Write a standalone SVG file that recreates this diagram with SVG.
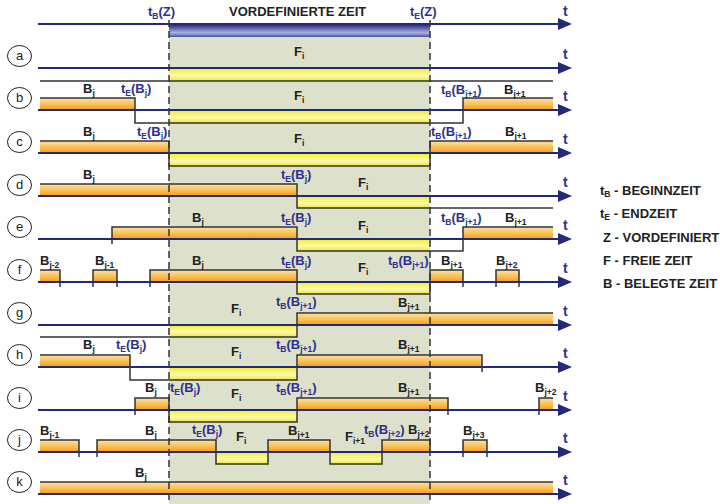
<svg xmlns="http://www.w3.org/2000/svg" width="720" height="504" viewBox="0 0 720 504">
<defs>
<linearGradient id="og" x1="0" y1="0" x2="0" y2="1"><stop offset="0" stop-color="#fde2a4"/><stop offset="0.55" stop-color="#f9bf52"/><stop offset="1" stop-color="#f49c1a"/></linearGradient>
<linearGradient id="yg" x1="0" y1="0" x2="0" y2="1"><stop offset="0" stop-color="#f6ee2a"/><stop offset="0.55" stop-color="#fcf9b8"/><stop offset="1" stop-color="#f0e62a"/></linearGradient>
<linearGradient id="bg" x1="0" y1="0" x2="0" y2="1"><stop offset="0" stop-color="#2a2e82"/><stop offset="0.65" stop-color="#aab0e0"/><stop offset="1" stop-color="#4b509e"/></linearGradient>
<marker id="ar" markerUnits="userSpaceOnUse" markerWidth="14" markerHeight="12" refX="2" refY="6" orient="auto"><path d="M0,0 L14,6 L0,12 z" fill="#23287a"/></marker>
</defs>
<style>
.ax{stroke:#23287a;stroke-width:2;fill:none;marker-end:url(#ar)}
.sig{stroke:#333;stroke-width:1.5;fill:none}
.ob{fill:url(#og)}
.yb{fill:url(#yg)}
.dash{stroke:#333;stroke-width:1.5;stroke-dasharray:7,4;fill:none}
text{font-family:"Liberation Sans",Arial,sans-serif;font-weight:bold;font-size:13px;fill:#222}
.tl{fill:#2e3190}
.s{font-size:8.5px}
.tt{fill:#2e3190;font-size:14px}
.cl{fill:#fff;stroke:#222;stroke-width:1}
.ct{font-weight:normal;font-size:13px;text-anchor:middle}
.lg{font-size:13px}
</style>
<rect x="169" y="37" width="261" height="467" fill="#dde0ca"/>
<rect x="169" y="25" width="261" height="12" fill="url(#bg)"/>

<g id="header">
<line class="ax" x1="38" y1="24" x2="560" y2="24"/>
<text x="148" y="16" class="tl">t<tspan class="s" dy="3">B</tspan><tspan dy="-3">(Z)</tspan></text>
<text x="229" y="16">VORDEFINIERTE ZEIT</text>
<text x="410" y="16" class="tl">t<tspan class="s" dy="3">E</tspan><tspan dy="-3">(Z)</tspan></text>
<text x="563" y="16" class="tt">t</text>
</g>

<g id="row-a">
<rect class="yb" x="169" y="69" width="261" height="12"/>
<path class="sig" d="M40,81 H553"/>
<line class="ax" x1="38" y1="68" x2="560" y2="68"/>
<ellipse class="cl" cx="19.5" cy="56" rx="12" ry="10.5"/><text class="ct" x="19.5" y="60">a</text>
<text x="294" y="56">F<tspan class="s" dy="3">i</tspan></text>
<text x="563" y="59" class="tt">t</text>
</g>

<g id="row-b">
<rect class="ob" x="40" y="98" width="95" height="12"/>
<rect class="ob" x="463" y="98" width="90" height="12"/>
<rect class="yb" x="169" y="111" width="261" height="12"/>
<path class="sig" d="M40,98 H135 V123 H463 V98 H553"/>
<line class="ax" x1="38" y1="110" x2="560" y2="110"/>
<ellipse class="cl" cx="19.5" cy="98" rx="12" ry="10.5"/><text class="ct" x="19.5" y="102">b</text>
<text x="83" y="93">B<tspan class="s" dy="3">j</tspan></text>
<text x="121" y="93" class="tl">t<tspan class="s" dy="3">E</tspan><tspan dy="-3">(B</tspan><tspan class="s" dy="3">j</tspan><tspan dy="-3">)</tspan></text>
<text x="294" y="100">F<tspan class="s" dy="3">i</tspan></text>
<text x="441" y="94" class="tl">t<tspan class="s" dy="3">B</tspan><tspan dy="-3">(B</tspan><tspan class="s" dy="3">j+1</tspan><tspan dy="-3">)</tspan></text>
<text x="504" y="94">B<tspan class="s" dy="3">j+1</tspan></text>
<text x="563" y="101" class="tt">t</text>
</g>

<g id="row-c">
<rect class="ob" x="40" y="141" width="129" height="12"/>
<rect class="ob" x="430" y="141" width="123" height="12"/>
<rect class="yb" x="169" y="154" width="261" height="12"/>
<path class="sig" d="M40,141 H169 V166 H430 V141 H553"/>
<line class="ax" x1="38" y1="153" x2="560" y2="153"/>
<ellipse class="cl" cx="19.5" cy="142" rx="12" ry="10.5"/><text class="ct" x="19.5" y="146">c</text>
<text x="83" y="136">B<tspan class="s" dy="3">j</tspan></text>
<text x="137" y="136" class="tl">t<tspan class="s" dy="3">E</tspan><tspan dy="-3">(B</tspan><tspan class="s" dy="3">j</tspan><tspan dy="-3">)</tspan></text>
<text x="294" y="143">F<tspan class="s" dy="3">i</tspan></text>
<text x="431" y="136" class="tl">t<tspan class="s" dy="3">B</tspan><tspan dy="-3">(B</tspan><tspan class="s" dy="3">j+1</tspan><tspan dy="-3">)</tspan></text>
<text x="505" y="136">B<tspan class="s" dy="3">j+1</tspan></text>
<text x="563" y="144" class="tt">t</text>
</g>

<g id="row-d">
<rect class="ob" x="40" y="184" width="257" height="12"/>
<rect class="yb" x="297" y="197" width="133" height="11"/>
<path class="sig" d="M40,184 H297 V208 H553"/>
<line class="ax" x1="38" y1="196" x2="560" y2="196"/>
<ellipse class="cl" cx="19.5" cy="185" rx="12" ry="10.5"/><text class="ct" x="19.5" y="189">d</text>
<text x="83" y="179">B<tspan class="s" dy="3">j</tspan></text>
<text x="281" y="179" class="tl">t<tspan class="s" dy="3">E</tspan><tspan dy="-3">(B</tspan><tspan class="s" dy="3">j</tspan><tspan dy="-3">)</tspan></text>
<text x="358" y="187">F<tspan class="s" dy="3">i</tspan></text>
<text x="563" y="187" class="tt">t</text>
</g>

<g id="row-e">
<rect class="ob" x="112" y="227" width="185" height="12"/>
<rect class="ob" x="463" y="227" width="90" height="12"/>
<rect class="yb" x="297" y="240" width="133" height="11"/>
<path class="sig" d="M112,244 V227 H297 V251 H463 V227 H553"/>
<line class="ax" x1="38" y1="239" x2="560" y2="239"/>
<ellipse class="cl" cx="19.5" cy="227" rx="12" ry="10.5"/><text class="ct" x="19.5" y="231">e</text>
<text x="192" y="222">B<tspan class="s" dy="3">j</tspan></text>
<text x="281" y="222" class="tl">t<tspan class="s" dy="3">E</tspan><tspan dy="-3">(B</tspan><tspan class="s" dy="3">j</tspan><tspan dy="-3">)</tspan></text>
<text x="358" y="230">F<tspan class="s" dy="3">i</tspan></text>
<text x="441" y="222" class="tl">t<tspan class="s" dy="3">B</tspan><tspan dy="-3">(B</tspan><tspan class="s" dy="3">j+1</tspan><tspan dy="-3">)</tspan></text>
<text x="505" y="222">B<tspan class="s" dy="3">j+1</tspan></text>
<text x="563" y="230" class="tt">t</text>
</g>

<g id="row-f">
<rect class="ob" x="40" y="270" width="20" height="12"/>
<rect class="ob" x="93" y="270" width="24" height="12"/>
<rect class="ob" x="150" y="270" width="147" height="12"/>
<rect class="ob" x="430" y="270" width="33" height="12"/>
<rect class="ob" x="496" y="270" width="23" height="12"/>
<rect class="yb" x="297" y="283" width="133" height="11"/>
<path class="sig" d="M40,270 H60 V287 M93,287 V270 H117 V287 M150,287 V270 H297 V294 H430 V270 H463 V287 M496,287 V270 H519 V287"/>
<line class="ax" x1="38" y1="282" x2="560" y2="282"/>
<ellipse class="cl" cx="19.5" cy="270" rx="12" ry="10.5"/><text class="ct" x="19.5" y="274">f</text>
<text x="40" y="265">B<tspan class="s" dy="3">j-2</tspan></text>
<text x="95" y="265">B<tspan class="s" dy="3">j-1</tspan></text>
<text x="192" y="265">B<tspan class="s" dy="3">j</tspan></text>
<text x="281" y="265" class="tl">t<tspan class="s" dy="3">E</tspan><tspan dy="-3">(B</tspan><tspan class="s" dy="3">j</tspan><tspan dy="-3">)</tspan></text>
<text x="358" y="272">F<tspan class="s" dy="3">i</tspan></text>
<text x="388" y="265" class="tl">t<tspan class="s" dy="3">B</tspan><tspan dy="-3">(B</tspan><tspan class="s" dy="3">j+1</tspan><tspan dy="-3">)</tspan></text>
<text x="441" y="265">B<tspan class="s" dy="3">j+1</tspan></text>
<text x="496" y="265">B<tspan class="s" dy="3">j+2</tspan></text>
<text x="563" y="273" class="tt">t</text>
</g>

<g id="row-g">
<rect class="ob" x="297" y="313" width="256" height="12"/>
<rect class="yb" x="169" y="326" width="128" height="11"/>
<path class="sig" d="M40,337 H297 V313 H553"/>
<line class="ax" x1="38" y1="325" x2="560" y2="325"/>
<ellipse class="cl" cx="19.5" cy="313" rx="12" ry="10.5"/><text class="ct" x="19.5" y="317">g</text>
<text x="231" y="313">F<tspan class="s" dy="3">i</tspan></text>
<text x="276" y="306" class="tl">t<tspan class="s" dy="3">B</tspan><tspan dy="-3">(B</tspan><tspan class="s" dy="3">j+1</tspan><tspan dy="-3">)</tspan></text>
<text x="398" y="307">B<tspan class="s" dy="3">j+1</tspan></text>
<text x="563" y="316" class="tt">t</text>
</g>

<g id="row-h">
<rect class="ob" x="40" y="355" width="90" height="12"/>
<rect class="ob" x="297" y="355" width="185" height="12"/>
<rect class="yb" x="169" y="368" width="128" height="12"/>
<path class="sig" d="M40,355 H130 V380 H297 V355 H482 V372"/>
<line class="ax" x1="38" y1="367" x2="560" y2="367"/>
<ellipse class="cl" cx="19.5" cy="355" rx="12" ry="10.5"/><text class="ct" x="19.5" y="359">h</text>
<text x="83" y="349">B<tspan class="s" dy="3">j</tspan></text>
<text x="116" y="349" class="tl">t<tspan class="s" dy="3">E</tspan><tspan dy="-3">(B</tspan><tspan class="s" dy="3">j</tspan><tspan dy="-3">)</tspan></text>
<text x="231" y="356">F<tspan class="s" dy="3">i</tspan></text>
<text x="276" y="349" class="tl">t<tspan class="s" dy="3">B</tspan><tspan dy="-3">(B</tspan><tspan class="s" dy="3">j+1</tspan><tspan dy="-3">)</tspan></text>
<text x="398" y="349">B<tspan class="s" dy="3">j+1</tspan></text>
<text x="563" y="358" class="tt">t</text>
</g>

<g id="row-i">
<rect class="ob" x="135" y="398" width="34" height="12"/>
<rect class="ob" x="297" y="398" width="151" height="12"/>
<rect class="ob" x="539" y="398" width="14" height="12"/>
<rect class="yb" x="169" y="411" width="128" height="11"/>
<path class="sig" d="M135,415 V398 H169 V422 H297 V398 H448 V415 M539,415 V398 H553"/>
<line class="ax" x1="38" y1="410" x2="560" y2="410"/>
<ellipse class="cl" cx="19.5" cy="398" rx="12" ry="10.5"/><text class="ct" x="19.5" y="402">i</text>
<text x="145" y="392">B<tspan class="s" dy="3">j</tspan></text>
<text x="170" y="392" class="tl">t<tspan class="s" dy="3">E</tspan><tspan dy="-3">(B</tspan><tspan class="s" dy="3">j</tspan><tspan dy="-3">)</tspan></text>
<text x="231" y="398">F<tspan class="s" dy="3">i</tspan></text>
<text x="276" y="392" class="tl">t<tspan class="s" dy="3">B</tspan><tspan dy="-3">(B</tspan><tspan class="s" dy="3">j+1</tspan><tspan dy="-3">)</tspan></text>
<text x="398" y="392">B<tspan class="s" dy="3">j+1</tspan></text>
<text x="535" y="392">B<tspan class="s" dy="3">j+2</tspan></text>
<text x="563" y="401" class="tt">t</text>
</g>

<g id="row-j">
<rect class="ob" x="40" y="440" width="39" height="12"/>
<rect class="ob" x="97" y="440" width="119" height="12"/>
<rect class="ob" x="268" y="440" width="62" height="12"/>
<rect class="ob" x="382" y="440" width="48" height="12"/>
<rect class="ob" x="463" y="440" width="24" height="12"/>
<rect class="yb" x="216" y="453" width="52" height="11"/>
<rect class="yb" x="330" y="453" width="52" height="11"/>
<path class="sig" d="M40,440 H79 V457 M97,457 V440 H216 V464 H268 V440 H330 V464 H382 V440 H430 V452 M463,457 V440 H487 V457"/>
<line class="ax" x1="38" y1="452" x2="560" y2="452"/>
<ellipse class="cl" cx="19.5" cy="440" rx="12" ry="10.5"/><text class="ct" x="19.5" y="444">j</text>
<text x="40" y="435">B<tspan class="s" dy="3">j-1</tspan></text>
<text x="145" y="435">B<tspan class="s" dy="3">j</tspan></text>
<text x="192" y="434" class="tl">t<tspan class="s" dy="3">E</tspan><tspan dy="-3">(B</tspan><tspan class="s" dy="3">j</tspan><tspan dy="-3">)</tspan></text>
<text x="236" y="441">F<tspan class="s" dy="3">i</tspan></text>
<text x="288" y="435">B<tspan class="s" dy="3">j+1</tspan></text>
<text x="345" y="441">F<tspan class="s" dy="3">i+1</tspan></text>
<text x="364" y="434" class="tl">t<tspan class="s" dy="3">B</tspan><tspan dy="-3">(B</tspan><tspan class="s" dy="3">j+2</tspan><tspan dy="-3">)</tspan></text>
<text x="408" y="434">B<tspan class="s" dy="3">j+2</tspan></text>
<text x="463" y="435">B<tspan class="s" dy="3">j+3</tspan></text>
<text x="563" y="443" class="tt">t</text>
</g>

<g id="row-k">
<rect class="ob" x="40" y="482" width="513" height="12"/>
<path class="sig" d="M40,482 H553"/>
<line class="ax" x1="38" y1="494" x2="560" y2="494"/>
<ellipse class="cl" cx="19.5" cy="482" rx="12" ry="10.5"/><text class="ct" x="19.5" y="486">k</text>
<text x="135" y="477">B<tspan class="s" dy="3">j</tspan></text>
<text x="563" y="485" class="tt">t</text>
</g>

<g id="zone-lines">
<line class="dash" x1="169" y1="20" x2="169" y2="504"/>
<line class="dash" x1="430" y1="20" x2="430" y2="504"/>
</g>

<g id="legend">
<text x="600" y="195" class="lg">t<tspan class="s" dy="2">B</tspan><tspan dy="-2"> - BEGINNZEIT</tspan></text>
<text x="600" y="218" class="lg">t<tspan class="s" dy="2">E</tspan><tspan dy="-2"> - ENDZEIT</tspan></text>
<text x="603" y="242" class="lg">Z - VORDEFINIERT</text>
<text x="603" y="265" class="lg">F - FREIE ZEIT</text>
<text x="603" y="288" class="lg">B - BELEGTE ZEIT</text>
</g>
</svg>
